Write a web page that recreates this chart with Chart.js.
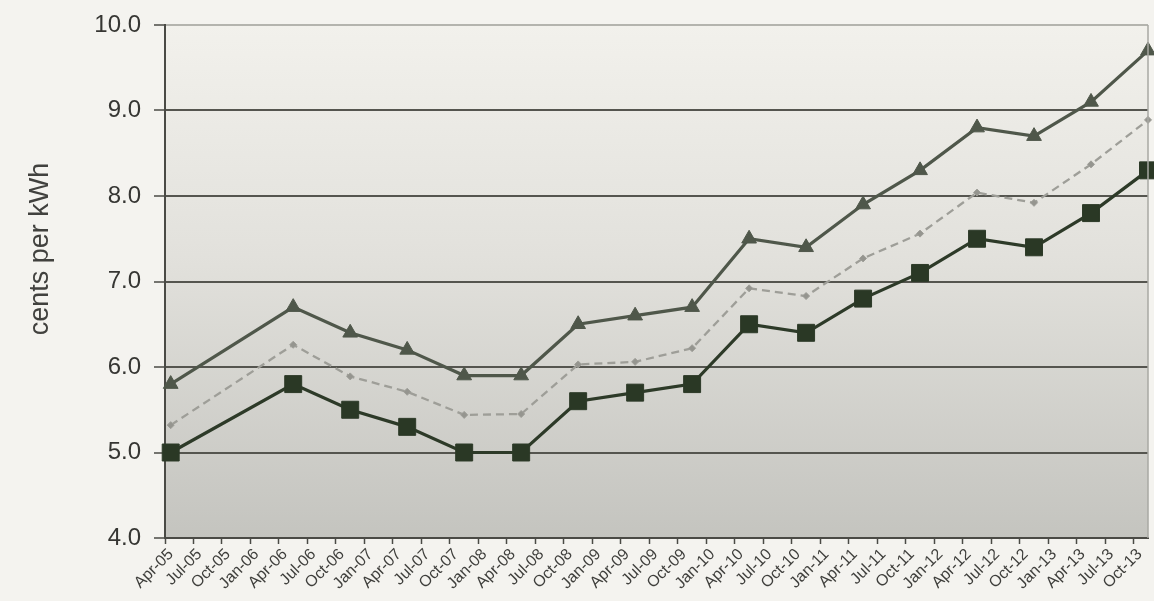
<!DOCTYPE html>
<html>
<head>
<meta charset="utf-8">
<script src="https://cdn.jsdelivr.net/npm/chart.js@4/dist/chart.umd.min.js"></script>
<style>
  html, body { margin: 0; padding: 0; background: #f4f3ef; }
  #wrap { width: 1154px; height: 601px; }
</style>
</head>
<body>
<div id="wrap"><canvas id="c" width="1154" height="601"></canvas></div>
<script>
// Quarterly tick labels along the time axis
const quarterLabels = [
  'Apr-05','Jul-05','Oct-05','Jan-06','Apr-06','Jul-06','Oct-06','Jan-07','Apr-07','Jul-07',
  'Oct-07','Jan-08','Apr-08','Jul-08','Oct-08','Jan-09','Apr-09','Jul-09','Oct-09','Jan-10',
  'Apr-10','Jul-10','Oct-10','Jan-11','Apr-11','Jul-11','Oct-11','Jan-12','Apr-12','Jul-12',
  'Oct-12','Jan-13','Apr-13','Jul-13','Oct-13'
];

// Observation dates, in months after April 2005
const obsMonths = [0.6, 13.5, 19.5, 25.5, 31.5, 37.5, 43.5, 49.5, 55.5,
                   61.5, 67.5, 73.5, 79.5, 85.5, 91.5, 97.5, 103.5];

// Prices, cents per kWh
const highPrice = [5.8, 6.7, 6.4, 6.2, 5.9, 5.9, 6.5, 6.6, 6.7,
                   7.5, 7.4, 7.9, 8.3, 8.8, 8.7, 9.1, 9.7];
const avgPrice  = [5.32, 6.26, 5.89, 5.71, 5.44, 5.45, 6.03, 6.06, 6.22,
                   6.92, 6.83, 7.27, 7.56, 8.04, 7.92, 8.37, 8.89];
const lowPrice  = [5.0, 5.8, 5.5, 5.3, 5.0, 5.0, 5.6, 5.7, 5.8,
                   6.5, 6.4, 6.8, 7.1, 7.5, 7.4, 7.8, 8.3];

const yTitle = 'cents per kWh';
const FONT = "'Liberation Sans', Arial, Helvetica, sans-serif";

const toPoints = (vals) => vals.map((v, i) => ({ x: obsMonths[i], y: v }));

// Page and plot-area backgrounds, right border and the axis title
const backdrop = {
  id: 'backdrop',
  beforeDraw(chart) {
    const { ctx, chartArea: a } = chart;
    ctx.save();
    ctx.fillStyle = '#f4f3ef';
    ctx.fillRect(0, 0, chart.width, chart.height);
    const g = ctx.createLinearGradient(0, a.top, 0, a.bottom);
    g.addColorStop(0, '#f2f1ec');
    g.addColorStop(0.45, '#e2e1dc');
    g.addColorStop(1, '#c4c4bf');
    ctx.fillStyle = g;
    ctx.fillRect(a.left, a.top, a.right - a.left, a.bottom - a.top);
    ctx.restore();
  },
  afterDraw(chart) {
    const { ctx, chartArea: a } = chart;
    ctx.save();
    ctx.strokeStyle = '#a9a9a3';
    ctx.lineWidth = 1.5;
    ctx.beginPath();
    ctx.moveTo(a.right, a.top);
    ctx.lineTo(a.right, a.bottom);
    ctx.stroke();
    ctx.translate(41, 249);
    ctx.rotate(-Math.PI / 2);
    ctx.fillStyle = '#41413e';
    ctx.font = '27px ' + FONT;
    ctx.textAlign = 'center';
    ctx.textBaseline = 'middle';
    ctx.fillText(yTitle, 0, 0);
    ctx.restore();
  }
};

new Chart(document.getElementById('c'), {
  type: 'line',
  data: {
    datasets: [
      {
        label: 'High',
        data: toPoints(highPrice),
        borderColor: '#4f574a',
        backgroundColor: '#4f574a',
        borderWidth: 3.2,
        pointStyle: 'triangle',
        pointRadius: 8.5,
        pointBorderWidth: 1,
        clip: false,
        tension: 0
      },
      {
        label: 'Average',
        data: toPoints(avgPrice),
        borderColor: '#9e9e98',
        backgroundColor: '#95958f',
        borderWidth: 2.3,
        borderDash: [8, 5],
        pointStyle: 'rectRot',
        pointRadius: 3.5,
        pointBorderWidth: 1,
        clip: false,
        tension: 0
      },
      {
        label: 'Low',
        data: toPoints(lowPrice),
        borderColor: '#2d3a28',
        backgroundColor: '#2a3825',
        borderWidth: 3.2,
        pointStyle: 'rect',
        pointRadius: 12,
        pointBorderWidth: 1,
        clip: false,
        tension: 0
      }
    ]
  },
  options: {
    responsive: false,
    animation: false,
    layout: { autoPadding: false, padding: { top: 25, right: 6, left: 0, bottom: 0 } },
    plugins: {
      legend: { display: false },
      tooltip: { enabled: false }
    },
    scales: {
      x: {
        type: 'linear',
        min: 0,
        max: 103.5,
        afterFit(scale) {
          scale.height = 63;
          scale.paddingLeft = 0;
          scale.paddingRight = 0;
        },
        border: { display: true, color: '#4a4a45', width: 2 },
        grid: {
          drawOnChartArea: false,
          drawTicks: true,
          tickLength: 6,
          tickColor: '#4a4a45',
          tickWidth: 1.5
        },
        ticks: {
          stepSize: 3,
          includeBounds: false,
          autoSkip: false,
          maxRotation: 45,
          minRotation: 45,
          padding: 1,
          labelOffset: 6,
          color: '#3f3f3c',
          font: { family: FONT, size: 16 },
          callback: (v) => quarterLabels[Math.round(v / 3)] || ''
        }
      },
      y: {
        min: 4,
        max: 10,
        afterFit(scale) {
          scale.width = 165;
          scale.paddingTop = 0;
          scale.paddingBottom = 0;
        },
        border: { display: true, color: '#4a4a45', width: 2 },
        grid: {
          color: (c) => (c.tick && c.tick.value === 10 ? '#b4b4ae' : '#55554f'),
          lineWidth: 2,
          drawTicks: true,
          tickLength: 11,
          tickColor: '#4a4a45',
          tickWidth: 1.5
        },
        ticks: {
          stepSize: 1,
          padding: 13,
          color: '#363633',
          font: { family: FONT, size: 24 },
          callback: (v) => Number(v).toFixed(1)
        }
      }
    }
  },
  plugins: [backdrop]
});
</script>
</body>
</html>
